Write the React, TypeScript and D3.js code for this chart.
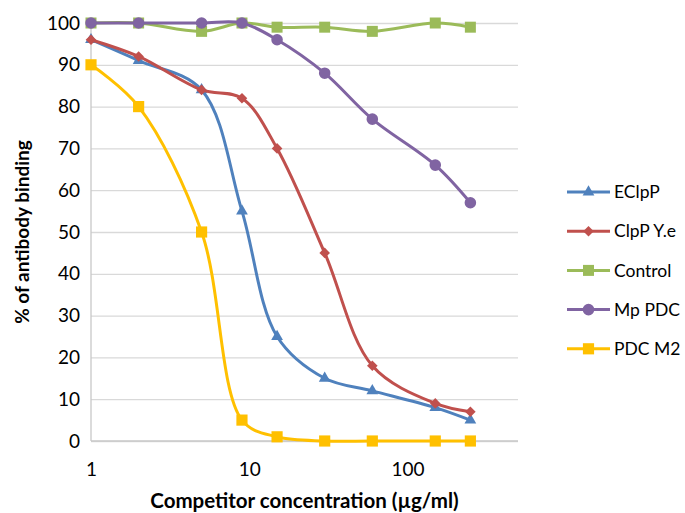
import React, { useRef, useEffect } from "react";
import * as d3 from "d3";

// competitor concentration (µg/ml)
const concentrations = [1, 2, 5, 9, 15, 30, 60, 150, 250];

const seriesNames = ["EClpP", "ClpP Y.e", "Control", "Mp PDC", "PDC M2"];
const eclpp = [96, 91, 84, 55, 25, 15, 12, 8, 5];
const clppYe = [96, 92, 84, 82, 70, 45, 18, 9, 7];
const control = [100, 100, 98, 100, 99, 99, 98, 100, 99];
const mpPdc = [100, 100, 100, 100, 96, 88, 77, 66, 57];
const pdcM2 = [90, 80, 50, 5, 1, 0, 0, 0, 0];

const yTicks = [0, 10, 20, 30, 40, 50, 60, 70, 80, 90, 100];
const xTicks = [1, 10, 100];

const colors = ["#4F81BD", "#C0504D", "#9BBB59", "#8064A2", "#FFC000"];
const FONT = "Lato, 'Open Sans', sans-serif";

const App = () => {
  const svgRef = useRef<SVGSVGElement>(null);

  const width = 685;
  const height = 513;
  const plot = { left: 91, right: 518, top: 23, bottom: 441 };

  useEffect(() => {
    const svg = d3.select(svgRef.current);
    svg.selectAll("*").remove();

    const x = d3.scaleLog().domain([1, 500]).range([plot.left, plot.right]);
    const y = d3.scaleLinear().domain([0, 100]).range([plot.bottom, plot.top]);

    // gridlines + y labels
    const yAxis = svg
      .append("g")
      .attr("transform", `translate(${plot.left},0)`)
      .call(
        d3
          .axisLeft(y)
          .tickValues(yTicks)
          .tickSize(-(plot.right - plot.left))
          .tickPadding(11)
      );
    yAxis.select(".domain").remove();
    yAxis.selectAll(".tick line").attr("stroke", "#D9D9D9").attr("stroke-width", 1.3);
    yAxis
      .selectAll(".tick text")
      .attr("font-family", FONT)
      .attr("font-size", 19)
      .attr("fill", "#000");

    // axis lines
    svg
      .append("line")
      .attr("x1", plot.left)
      .attr("x2", plot.left)
      .attr("y1", plot.top)
      .attr("y2", plot.bottom)
      .attr("stroke", "#C8C8C8")
      .attr("stroke-width", 1.3);
    svg
      .append("line")
      .attr("x1", plot.left)
      .attr("x2", plot.right)
      .attr("y1", plot.bottom)
      .attr("y2", plot.bottom)
      .attr("stroke", "#C8C8C8")
      .attr("stroke-width", 1.3);

    // x labels
    const xAxis = svg
      .append("g")
      .attr("transform", `translate(0,${plot.bottom})`)
      .call(
        d3
          .axisBottom(x)
          .tickValues(xTicks)
          .tickFormat(d3.format("d"))
          .tickSize(0)
          .tickPadding(22)
      );
    xAxis.select(".domain").remove();
    xAxis
      .selectAll(".tick text")
      .attr("font-family", FONT)
      .attr("font-size", 19)
      .attr("fill", "#000");

    // axis titles
    svg
      .append("text")
      .attr("x", (plot.left + plot.right) / 2)
      .attr("y", 508)
      .attr("text-anchor", "middle")
      .attr("font-family", FONT)
      .attr("font-weight", "bold")
      .attr("font-size", 20.5)
      .text("Competitor concentration (µg/ml)");

    svg
      .append("text")
      .attr("transform", `translate(29,${(plot.top + plot.bottom) / 2}) rotate(-90)`)
      .attr("text-anchor", "middle")
      .attr("font-family", FONT)
      .attr("font-weight", "bold")
      .attr("font-size", 19)
      .text("% of antibody binding");

    const allSeries = [eclpp, clppYe, control, mpPdc, pdcM2];
    const symbols = [
      { type: d3.symbolTriangle, size: 60, rotate: 0 },
      { type: d3.symbolSquare, size: 56, rotate: 45 },
      { type: d3.symbolSquare, size: 121, rotate: 0 },
      { type: d3.symbolCircle, size: 105, rotate: 0 },
      { type: d3.symbolSquare, size: 125, rotate: 0 },
    ];

    const line = d3
      .line<number>()
      .x((d, i) => x(concentrations[i]))
      .y((d) => y(d))
      .curve(d3.curveCatmullRom.alpha(0.5));

    allSeries.forEach((values, index) => {
      const g = svg.append("g");
      g.append("path")
        .attr("d", line(values))
        .attr("fill", "none")
        .attr("stroke", colors[index])
        .attr("stroke-width", 3);
      const sym = symbols[index];
      g.selectAll("path.marker")
        .data(values)
        .enter()
        .append("path")
        .attr("class", "marker")
        .attr("d", d3.symbol().type(sym.type).size(sym.size)())
        .attr(
          "transform",
          (d, i) => `translate(${x(concentrations[i])},${y(d)}) rotate(${sym.rotate})`
        )
        .attr("fill", colors[index]);
    });

    // legend
    const legend = svg
      .selectAll("g.legend")
      .data(seriesNames)
      .enter()
      .append("g")
      .attr("class", "legend")
      .attr("transform", (d, i) => `translate(567,${192 + i * 39.2})`);

    legend
      .append("line")
      .attr("x1", 0)
      .attr("x2", 43)
      .attr("stroke", (d, i) => colors[i])
      .attr("stroke-width", 3);
    legend
      .append("path")
      .attr("d", (d, i) => d3.symbol().type(symbols[i].type).size(symbols[i].size)())
      .attr("transform", (d, i) => `translate(21.5,0) rotate(${symbols[i].rotate})`)
      .attr("fill", (d, i) => colors[i]);
    legend
      .append("text")
      .attr("x", 47)
      .attr("dy", "0.35em")
      .attr("font-family", FONT)
      .attr("font-size", 17.5)
      .attr("fill", "#000")
      .text((d) => d);
  }, []);

  return (
    <svg
      ref={svgRef}
      width={width}
      height={height}
      style={{ position: "absolute", left: 0, top: 0, background: "#fff" }}
    />
  );
};

export default App;
